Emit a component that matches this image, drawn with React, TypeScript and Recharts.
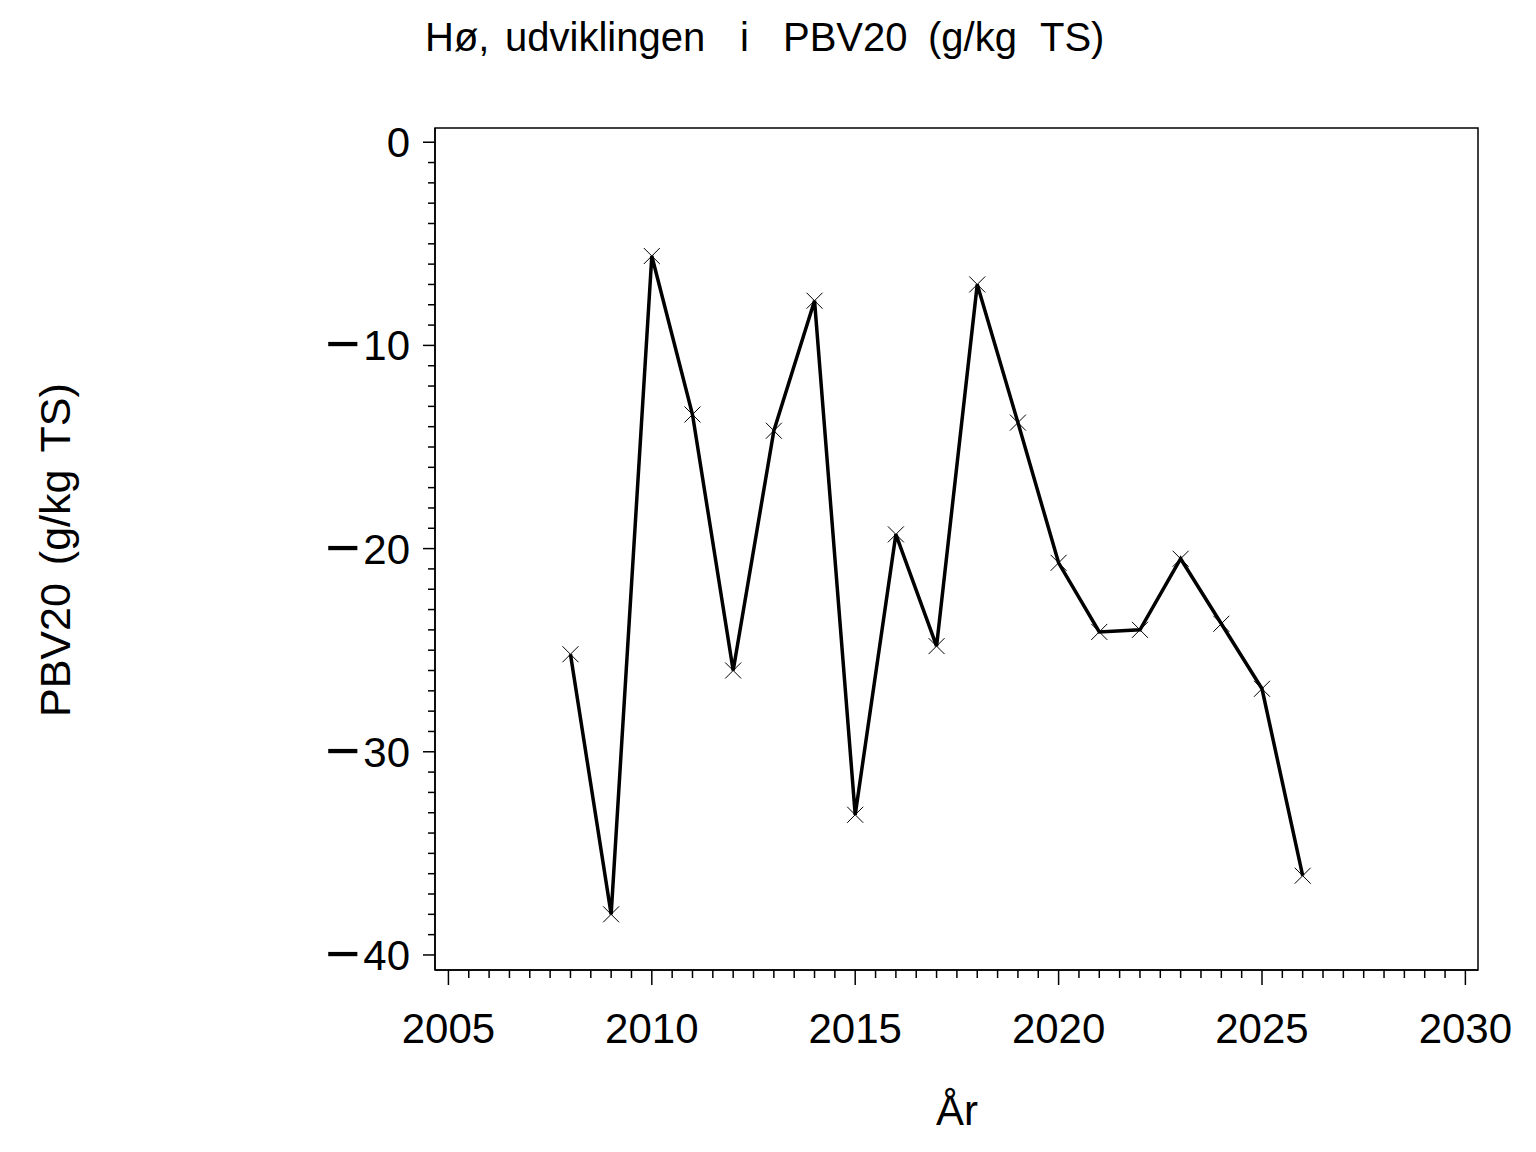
import React from 'react';
import { LineChart, Line, XAxis, YAxis, ReferenceArea } from 'recharts';

// values
const years = [2008, 2009, 2010, 2011, 2012, 2013, 2014, 2015, 2016, 2017, 2018, 2019, 2020, 2021, 2022, 2023, 2024, 2025, 2026];
const pbv20 = [-25.2, -38.0, -5.6, -13.4, -26.0, -14.2, -7.8, -33.1, -19.3, -24.8, -7.0, -13.8, -20.7, -24.1, -24.0, -20.5, -23.7, -26.9, -36.1];

const majorYears = [2005, 2010, 2015, 2020, 2025, 2030];
const majorValues = [-40, -30, -20, -10, 0];

const titleWords = ['Hø,', 'udviklingen', 'i', 'PBV20', '(g/kg', 'TS)'];
const titleWordX = [425, 505, 740, 783, 928, 1040];
const yLabelWords = ['PBV20', '(g/kg', 'TS)'];
const xLabel = 'År';

const X_DOMAIN: [number, number] = [2004.67, 2030.31];
const Y_DOMAIN: [number, number] = [-40.74, 0.7];

const FONT = '"Liberation Sans", Arial, Helvetica, sans-serif';

const data = years.map((year, i) => ({ year, pbv20: pbv20[i] }));

// minor ticks: half years on x, whole units on y
const xTicks: number[] = [];
for (let t = majorYears[0]; t <= majorYears[majorYears.length - 1]; t += 0.5) xTicks.push(t);
const yTicks: number[] = [];
for (let t = majorValues[0]; t <= majorValues[majorValues.length - 1]; t += 1) yTicks.push(t);

const XTick = (props: any) => {
  const { x, y, payload } = props;
  const v = payload.value;
  const major = majorYears.includes(v);
  return (
    <g>
      <line x1={x} x2={x} y1={y} y2={y + (major ? 15 : 8)} stroke="#000" strokeWidth={1.5} />
      {major && (
        <text x={x} y={y + 73} textAnchor="middle" fontSize={42} fontFamily={FONT} fill="#000">
          {v}
        </text>
      )}
    </g>
  );
};

const YTick = (props: any) => {
  const { x, y, payload } = props;
  const v = payload.value;
  const major = majorValues.includes(v);
  return (
    <g>
      <line x1={x - (major ? 12 : 7)} x2={x} y1={y} y2={y} stroke="#000" strokeWidth={1.5} />
      {major && (
        <text x={x - 25} y={y + 15} textAnchor="end" fontSize={42} fontFamily={FONT} fill="#000">
          {v < 0 && (
            <tspan fontSize={60} dy={4}>
              −
            </tspan>
          )}
          <tspan dy={v < 0 ? -4 : 0} dx={v < 0 ? 3 : 0}>
            {Math.abs(v)}
          </tspan>
        </text>
      )}
    </g>
  );
};

const CrossDot = (props: any) => {
  const { cx, cy, index } = props;
  if (cx == null || cy == null) return null;
  const s = 8;
  return (
    <path
      key={`dot-${index}`}
      d={`M${cx - s},${cy - s}L${cx + s},${cy + s}M${cx - s},${cy + s}L${cx + s},${cy - s}`}
      stroke="#000"
      strokeWidth={1}
      fill="none"
    />
  );
};

export default function App() {
  return (
    <div style={{ position: 'relative', width: 1536, height: 1152, background: '#fff' }}>
      <style>{'body{margin:0}'}</style>
      <LineChart width={1536} height={1152} data={data} margin={{ top: 128, right: 58, left: 0, bottom: 0 }}>
        <ReferenceArea
          x1={X_DOMAIN[0]}
          x2={X_DOMAIN[1]}
          y1={Y_DOMAIN[0]}
          y2={Y_DOMAIN[1]}
          fill="none"
          stroke="#000"
          strokeWidth={1.5}
          ifOverflow="visible"
        />
        <XAxis
          dataKey="year"
          type="number"
          domain={X_DOMAIN}
          allowDataOverflow
          ticks={xTicks}
          interval={0}
          height={182}
          tickSize={0}
          tickMargin={0}
          tickLine={false}
          axisLine={{ stroke: '#000', strokeWidth: 1.5 }}
          tick={(p: any) => <XTick {...p} />}
        />
        <YAxis
          type="number"
          domain={Y_DOMAIN}
          allowDataOverflow
          ticks={yTicks}
          interval={0}
          width={435}
          tickSize={0}
          tickMargin={0}
          tickLine={false}
          axisLine={{ stroke: '#000', strokeWidth: 1.5 }}
          tick={(p: any) => <YTick {...p} />}
        />
        <Line
          type="linear"
          dataKey="pbv20"
          stroke="#000"
          strokeWidth={3.5}
          dot={(p: any) => <CrossDot {...p} />}
          activeDot={false}
          isAnimationActive={false}
        />
      </LineChart>
      <svg width={1536} height={1152} style={{ position: 'absolute', left: 0, top: 0, pointerEvents: 'none' }}>
        <g fontFamily={FONT} fill="#000">
          {titleWords.map((w, i) => (
            <text key={w} x={titleWordX[i]} y={51} fontSize={40}>
              {w}
            </text>
          ))}
          <text x={70} y={717} fontSize={43} transform="rotate(-90 70 717)">
            {yLabelWords.map((w, i) => (
              <tspan key={w} dx={i === 0 ? 0 : 6}>
                {(i === 0 ? '' : ' ') + w}
              </tspan>
            ))}
          </text>
          <text x={957} y={1125} fontSize={42} textAnchor="middle">
            {xLabel}
          </text>
        </g>
      </svg>
    </div>
  );
}
